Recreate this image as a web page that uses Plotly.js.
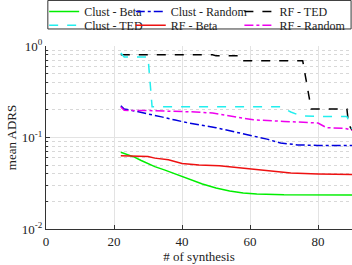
<!DOCTYPE html>
<html><head><meta charset="utf-8">
<script src="https://cdn.plot.ly/plotly-3.0.1.min.js"></script>
<style>html,body{margin:0;padding:0;background:#fff}#chart{width:352px;height:265px}
#chart svg text{font-family:"Liberation Serif","Times New Roman",serif !important}</style>
</head><body><div id="chart"></div>
<script>
const clustBetaX = [22,24,26,28,30,32,35,38,40,42,46,50,54,58,62,70,80,90];
const clustBetaY = [0.069,0.065,0.061,0.056,0.052,0.048,0.044,0.040,0.037,0.035,0.031,0.028,0.026,0.0248,0.0242,0.0237,0.0236,0.0236];
const clustRandomX = [22,23,26,30,34,38,42,50,60,65,69,74,80,90];
const clustRandomY = [0.222,0.205,0.195,0.182,0.168,0.155,0.144,0.128,0.106,0.096,0.087,0.083,0.082,0.082];
const rfTedX = [22,30,40,49,50,57,57.5,75.5,78,88.5,89,90];
const rfTedY = [0.80,0.80,0.80,0.80,0.78,0.78,0.69,0.69,0.205,0.205,0.14,0.12];
const clustTedX = [22,23,30,31.2,40,50,60,69,72,75,80,88.5,90];
const clustTedY = [0.84,0.76,0.76,0.217,0.217,0.217,0.217,0.217,0.19,0.172,0.17,0.17,0.125];
const rfBetaX = [22,26,30,32,36,40,45,51,56,60,66,72,80,90];
const rfBetaY = [0.063,0.062,0.062,0.0595,0.057,0.052,0.050,0.049,0.047,0.045,0.043,0.041,0.040,0.0395];
const rfRandomX = [22,23,30,36,44,49,55,61,70,80,82.5,88,90];
const rfRandomY = [0.215,0.198,0.197,0.195,0.19,0.185,0.17,0.156,0.15,0.144,0.128,0.126,0.12];
const names = ['Clust - Beta','Clust - Random','RF - TED','Clust - TED','RF - Beta','RF - Random'];
const yTickVals = [0.01, 0.1, 1];
const yTickText = ['10<sup>-2</sup>','10<sup>-1</sup>','10<sup>0</sup>'];
const xTickVals = [0,20,40,60,80];

const series = [
  [clustBetaX, clustBetaY, '#00ee00', 'solid'],
  [clustRandomX, clustRandomY, '#0000dd', 'dashdot'],
  [rfTedX, rfTedY, '#000000', 'dash'],
  [clustTedX, clustTedY, '#22eeee', 'dash'],
  [rfBetaX, rfBetaY, '#ee1111', 'solid'],
  [rfRandomX, rfRandomY, '#ee00ee', 'dashdot']
];
const legIds = ['legend','legend2','legend3','legend4','legend5','legend6'];
const traces = series.map((s,i)=>({
  x: s[0], y: s[1], name: names[i], type:'scatter', mode:'lines', legend: legIds[i],
  line:{color:s[2], dash:s[3], width:1.5}
}));
const FAM = 'Liberation Serif, Times New Roman, serif';
const font = {family:FAM, size:13, color:'#222'};
const colX = [-0.006, 0.277, 0.632];
const rowY = [1.268, 1.192];
const layout = {
  width:352, height:265,
  margin:{l:46, r:0, t:46, b:36, autoexpand:false},
  paper_bgcolor:'#fff', plot_bgcolor:'#fff',
  font: font,
  showlegend:true,
  shapes:[{type:'rect', xref:'paper', yref:'paper', x0:0.006, x1:0.997, y0:1.093, y1:1.249,
    line:{color:'#333', width:1}, fillcolor:'rgba(0,0,0,0)', layer:'below'}],
  xaxis:{range:[0,90], tickvals:xTickVals, ticks:'inside', ticklen:4, tickcolor:'#333',
    showline:true, linecolor:'#333', linewidth:1, zeroline:false,
    showgrid:true, gridcolor:'#e3e3e3', gridwidth:1,
    title:{text:'# of synthesis', font:{family:FAM, size:13, color:'#222'}, standoff:4},
    tickfont:{family:FAM, size:13, color:'#222'}},
  yaxis:{type:'log', range:[-2,0], tickvals:yTickVals, ticktext:yTickText,
    ticks:'inside', ticklen:4, tickcolor:'#333',
    showline:true, linecolor:'#333', linewidth:1, zeroline:false,
    showgrid:true, gridcolor:'#e3e3e3', gridwidth:1,
    minor:{dtick:'D1', ticks:'inside', ticklen:2, tickcolor:'#333', showgrid:true, gridcolor:'#d8d8d8', griddash:'dot'},
    title:{text:'mean ADRS', font:{family:FAM, size:13, color:'#222'}, standoff:2},
    tickfont:{family:FAM, size:13, color:'#222'}}
};
legIds.forEach((id,i)=>{
  layout[id] = {orientation:'v', xanchor:'left', yanchor:'top',
    x: colX[i%3], y: rowY[Math.floor(i/3)],
    borderwidth:0, bgcolor:'rgba(0,0,0,0)',
    font:{family:FAM, size:12, color:'#222'},
    itemwidth:30, tracegroupgap:0};
});
Plotly.newPlot('chart', traces, layout, {displayModeBar:false, staticPlot:true});
</script></body></html>
